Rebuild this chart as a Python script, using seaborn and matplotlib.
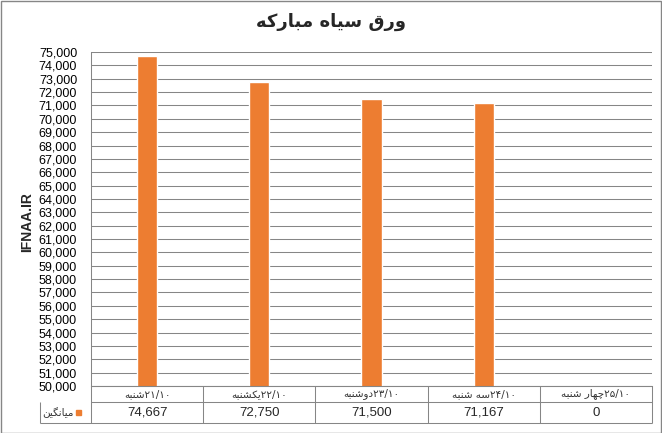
import matplotlib
matplotlib.use("Agg")
import matplotlib.pyplot as plt
import seaborn as sns
import pandas as pd
from matplotlib.patches import Rectangle
from matplotlib.ticker import FuncFormatter, MultipleLocator

title = "ورق سیاه مبارکه"
days = ["شنبه", "یکشنبه", "دوشنبه", "سه شنبه", "چهار شنبه"]
dates = ["۱۰/۲۱", "۱۰/۲۲", "۱۰/۲۳", "۱۰/۲۴", "۱۰/۲۵"]
prices = [74667, 72750, 71500, 71167, 0]
series_name = "میانگین"
y_label = "IFNAA.IR"

# presentation forms: isolated, final, initial, medial (matplotlib does no shaping)
FORMS = {
    "ا": ("\uFE8D", "\uFE8E"),
    "د": ("\uFEA9", "\uFEAA"),
    "ر": ("\uFEAD", "\uFEAE"),
    "و": ("\uFEED", "\uFEEE"),
    "ب": ("\uFE8F", "\uFE90", "\uFE91", "\uFE92"),
    "س": ("\uFEB1", "\uFEB2", "\uFEB3", "\uFEB4"),
    "ش": ("\uFEB5", "\uFEB6", "\uFEB7", "\uFEB8"),
    "ق": ("\uFED5", "\uFED6", "\uFED7", "\uFED8"),
    "م": ("\uFEE1", "\uFEE2", "\uFEE3", "\uFEE4"),
    "ن": ("\uFEE5", "\uFEE6", "\uFEE7", "\uFEE8"),
    "ه": ("\uFEE9", "\uFEEA", "\uFEEB", "\uFEEC"),
    "ک": ("\uFB8E", "\uFB8F", "\uFB90", "\uFB91"),
    "گ": ("\uFB92", "\uFB93", "\uFB94", "\uFB95"),
    "ی": ("\uFBFC", "\uFBFD", "\uFBFE", "\uFBFF"),
    "چ": ("\uFB7A", "\uFB7B", "\uFB7C", "\uFB7D"),
}


def rtl(text):
    out = []
    for i, ch in enumerate(text):
        f = FORMS.get(ch)
        if f is None:
            out.append(ch)
            continue
        prev = text[i - 1] if i > 0 else ""
        nxt = text[i + 1] if i + 1 < len(text) else ""
        join_prev = prev in FORMS and len(FORMS[prev]) == 4
        join_next = len(f) == 4 and nxt in FORMS
        if join_prev and join_next:
            out.append(f[3])
        elif join_prev:
            out.append(f[1])
        elif join_next:
            out.append(f[2])
        else:
            out.append(f[0])
    return "".join(reversed(out))


def cat_label(day, date):
    return rtl(day) + "/".join(reversed(date.split("/")))


df = pd.DataFrame({"cat": [cat_label(d, t) for d, t in zip(days, dates)], "price": prices})

sns.set_style("white")
plt.rcParams["font.family"] = ["Liberation Sans", "DejaVu Sans"]

W, H = 662, 433
GRAY = "#868686"
ORANGE = "#ED7D31"

fig = plt.figure(figsize=(W / 100, H / 100), dpi=100)
ax = fig.add_axes([91 / W, (H - 386) / H, 561 / W, 334 / H])

sns.barplot(data=df, x="cat", y="price", color=ORANGE, width=0.18, saturation=1, ax=ax)
ax.set_xlim(-0.5, 4.5)
ax.set_ylim(50000, 75000)
ax.yaxis.set_major_locator(MultipleLocator(1000))
ax.yaxis.set_major_formatter(FuncFormatter(lambda v, p: f"{int(v):,}"))
ax.yaxis.grid(True, color=GRAY, lw=0.75)
ax.set_axisbelow(True)
ax.tick_params(axis="y", length=0, pad=10, labelsize=9, colors="black")
ax.set_xticks([])
ax.set_xlabel("")
ax.set_ylabel("")
for s in ["top", "right"]:
    ax.spines[s].set_visible(False)
for s in ["left", "bottom"]:
    ax.spines[s].set_color(GRAY)
    ax.spines[s].set_linewidth(0.75)

# data table under the plot
tab = fig.add_axes([40 / W, (H - 423) / H, 612 / W, 37 / H])
unit = 561 / 5
xmin = -0.5 - 51 / unit
tab.set_xlim(xmin, 4.5)
tab.set_ylim(0, 37)
tab.axis("off")
lw = 0.75
tab.hlines([37, 21], -0.5, 4.5, color=GRAY, lw=lw, clip_on=False)
tab.hlines([0], xmin, 4.5, color=GRAY, lw=lw, clip_on=False)
tab.vlines([xmin], 0, 21, color=GRAY, lw=lw, clip_on=False)
tab.vlines([k - 0.5 for k in range(len(days) + 1)], 0, 37, color=GRAY, lw=lw, clip_on=False)
for i, row in df.iterrows():
    tab.text(i, 29, row["cat"], ha="center", va="center", fontsize=7.5,
             family=["DejaVu Sans"], color="#333333")
    tab.text(i, 10.5, f"{row['price']:,}", ha="center", va="center", fontsize=9.5)
tab.text(xmin + 34 / unit, 10.5, rtl(series_name), ha="right", va="center",
         fontsize=7.5, family=["DejaVu Sans"], color="#333333")
tab.add_patch(Rectangle((xmin + 36 / unit, 8), 5 / unit, 5, color=ORANGE, clip_on=False))

fig.text(331 / W, 1 - 22 / H, rtl(title), ha="center", va="center",
         fontsize=13, fontweight="bold", family=["DejaVu Sans"])
fig.text(27 / W, 1 - 222 / H, y_label, ha="center", va="center", rotation=90,
         fontsize=10, fontweight="bold")

fig.patches.append(Rectangle((0.5 / W, 0.5 / H), 1 - 1.5 / W, 1 - 1.5 / H, fill=False,
                             edgecolor=GRAY, lw=1, transform=fig.transFigure, figure=fig))

fig.savefig("out.png", dpi=100)
plt.close(fig)
